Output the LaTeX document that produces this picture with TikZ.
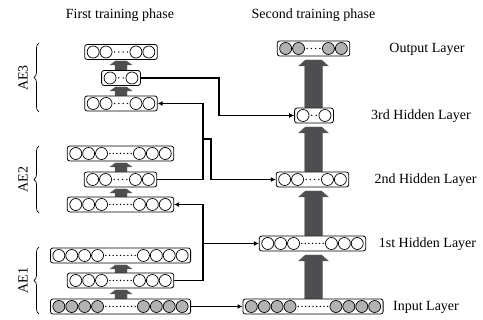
\documentclass[tikz,border=0pt]{standalone}
\usepackage{fontspec}
\setmainfont{Liberation Serif}
\usetikzlibrary{arrows.meta,decorations.pathreplacing,calc}

\definecolor{arrgray}{RGB}{78,78,80}
\definecolor{nodegray}{RGB}{178,178,178}

\tikzset{
  layerbox/.style={draw, rounded corners=2.5pt, line width=0.8pt, inner sep=0pt, fill=white},
  neuron/.style={draw, line width=0.7pt},
  conn/.style={line width=1.1pt, -{Latex[length=5pt,width=5pt]}},
  plainline/.style={line width=1.1pt},
  blockarr/.style={fill=arrgray, draw=black!60, line width=0.4pt},
  lbl/.style={font=\fontsize{14}{16}\selectfont, inner sep=0pt},
  bracestyle/.style={decorate, decoration={brace, amplitude=5pt}, line width=0.7pt},
}

% name, cx, cy, circles per side, dots, fill
\newcommand\lyr[6]{%
  \pgfmathsetmacro\lyrW{4+2*#4*12.9+8*#4+1}%
  \pgfmathsetmacro\lyrGs{#2-\lyrW/2+2+#4*12.9}%
  \pgfmathsetmacro\lyrGw{8*#4+1}%
  \node[layerbox, minimum width=\lyrW pt, minimum height=15pt] (#1) at (#2,#3) {};
  \foreach \i in {1,...,#4}{
    \draw[neuron, fill=#6] ({#2-\lyrW/2+2+12.9*(\i-0.5)},#3) circle (6pt);
    \draw[neuron, fill=#6] ({#2+\lyrW/2-2-12.9*(\i-0.5)},#3) circle (6pt);
  }
  \foreach \j in {1,...,#5}{
    \fill ({\lyrGs+\lyrGw*(\j-0.5)/#5},#3) circle (0.75pt);
  }
}

% block arrow: cx, ybottom, ytop, shaft w, head w, top w, head h
\newcommand\barr[7]{%
  \filldraw[blockarr] ({#1-#4/2},#2) -- ({#1-#4/2},{#3+#7}) -- ({#1-#5/2},{#3+#7})
    -- ({#1-#6/2},#3) -- ({#1+#6/2},#3) -- ({#1+#5/2},{#3+#7})
    -- ({#1+#4/2},{#3+#7}) -- ({#1+#4/2},#2) -- cycle;
}

\begin{document}
\begin{tikzpicture}[x=1pt, y=-1pt]
\useasboundingbox (0,0) rectangle (483,320);

% titles
\node[lbl] (title1) at (120,15) {First training phase};
\node[lbl] (title2) at (313.5,15) {Second training phase};

% small arrows (first phase)
\barr{121}{96}{87}{12}{22}{11}{4}
\barr{121}{71}{61}{12}{22}{11}{4}
\barr{121}{197}{189}{12}{22}{11}{4}
\barr{121}{172}{163}{12}{22}{11}{4}
\barr{121}{299}{290}{12}{22}{11}{4}
\barr{121}{273}{265}{12}{22}{11}{4}

% big arrows (second phase)
\barr{313.5}{299}{255}{18}{30}{16}{6}
\barr{313.5}{236}{191}{18}{30}{16}{6}
\barr{313.5}{172}{127}{18}{30}{16}{6}
\barr{313.5}{108}{60}{18}{30}{16}{6}

% first phase layers
\lyr{ae3t}{121}{52}{2}{4}{white}
\lyr{ae3m}{121}{78}{1}{2}{white}
\lyr{ae3b}{121}{103.5}{2}{4}{white}
\lyr{ae2t}{120.5}{153.5}{3}{7}{white}
\lyr{ae2m}{120.5}{179.5}{2}{4}{white}
\lyr{ae2b}{120.5}{204.5}{3}{7}{white}
\lyr{ae1t}{120.5}{255.5}{4}{9}{white}
\lyr{ae1m}{120.5}{280.5}{3}{7}{white}
\lyr{ae1b}{120.5}{306.5}{4}{9}{nodegray}

% second phase layers
\lyr{out}{313.5}{48.5}{2}{4}{nodegray}
\lyr{h3}{314}{115.5}{1}{2}{white}
\lyr{h2}{312.5}{179.5}{2}{4}{white}
\lyr{h1}{312.5}{243.5}{3}{7}{white}
\lyr{inp}{313}{306.5}{4}{9}{nodegray}

% layer labels
\node[lbl] (lout) at (427,49) {Output Layer};
\node[lbl] (lh3) at (421,116) {3rd Hidden Layer};
\node[lbl] (lh2) at (425.5,180) {2nd Hidden Layer};
\node[lbl] (lh1) at (427.5,244) {1st Hidden Layer};
\node[lbl] (lin) at (426,307) {Input Layer};

% braces and AE labels
\draw[bracestyle] (39,112) -- (39,43);
\draw[bracestyle] (39,213) -- (39,146);
\draw[bracestyle] (39,314) -- (39,247);
\node[lbl, rotate=90] (lae3) at (23,78) {AE3};
\node[lbl, rotate=90] (lae2) at (23,179.5) {AE2};
\node[lbl, rotate=90] (lae1) at (23,280.5) {AE1};

% connectors
\coordinate (ja) at (219,0);
\coordinate (jb) at (203,0);
\coordinate (jc) at (211,0);
\coordinate (br2) at (203,139);

\draw[conn] (ae3m.east) -| (ja |- h3.west) -- (h3.west);
\draw[conn] (ae2m.east) -| (jb |- ae3b.east) -- (ae3b.east);
\draw[conn] (br2) -| (jc |- h2.west) -- (h2.west);
\draw[conn] (ae1m.east) -| (jb |- ae2b.east) -- (ae2b.east);
\draw[conn] (jb |- h1.west) -- (h1.west);
\draw[conn] (ae1b.east) -- (inp.west);
\end{tikzpicture}
\end{document}
